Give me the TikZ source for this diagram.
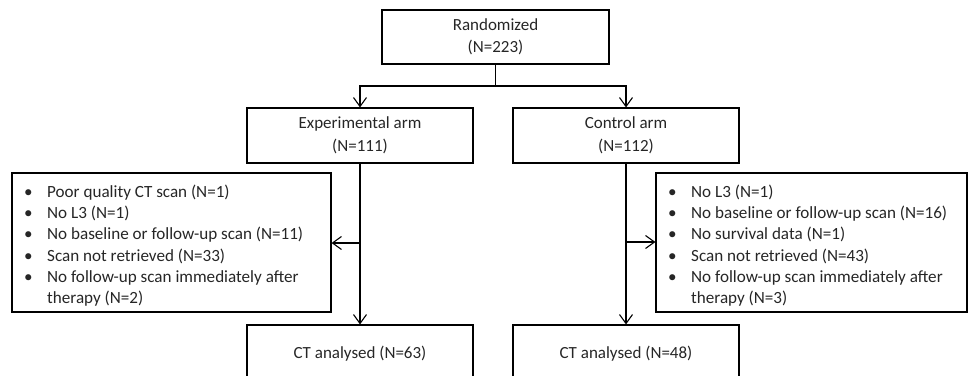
\documentclass[tikz,border=0pt]{standalone}
\usepackage{fontspec}
\setmainfont{Carlito}
\usetikzlibrary{arrows.meta}
\newcommand\bitm{\makebox[23pt][l]{\textbullet}}
\begin{document}
\begin{tikzpicture}[x=1pt,y=-1pt,
  box/.style={draw,line width=1.1pt,inner sep=0pt,align=center,
    font=\fontsize{17}{22.5}\selectfont,text=black!85},
  lst/.style={inner sep=0pt,align=left,anchor=west,
    font=\fontsize{17.1}{21.3}\selectfont,text=black!85},
  arr/.style={line width=1.3pt,-{Straight Barb[length=9pt,width=13pt,line width=1.1pt]}},
  ln/.style={line width=1.3pt}]
\useasboundingbox (0,0) rectangle (968,375);
\clip (0,0) rectangle (968,375);
\node[box,minimum width=227pt,minimum height=54pt] (rand) at (495.5,37) {Randomized\\(N=223)};
\node[box,minimum width=226pt,minimum height=55pt] (exp) at (360,135.5) {Experimental arm\\(N=111)};
\node[box,minimum width=226pt,minimum height=55pt] (ctrl) at (626,135.5) {Control arm\\(N=112)};
\node[box,minimum width=319pt,minimum height=139pt] (exclL) at (171.5,242.5) {};
\node[box,minimum width=311pt,minimum height=139pt] (exclR) at (811.5,242.5) {};
\node[box,minimum width=226pt,minimum height=57pt] (expb) at (360,353.5) {CT analysed (N=63)};
\node[box,minimum width=226pt,minimum height=57pt] (ctrlb) at (626,353.5) {CT analysed (N=48)};
\node[lst] (txtL) at (24,245.5) {\bitm Poor quality CT scan (N=1)\\
\bitm No L3 (N=1)\\
\bitm No baseline or follow-up scan (N=11)\\
\bitm Scan not retrieved (N=33)\\
\bitm No follow-up scan immediately after\\
\hspace*{23pt}therapy (N=2)};
\node[lst] (txtR) at (668,245.5) {\bitm No L3 (N=1)\\
\bitm No baseline or follow-up scan (N=16)\\
\bitm No survival data (N=1)\\
\bitm Scan not retrieved (N=43)\\
\bitm No follow-up scan immediately after\\
\hspace*{23pt}therapy (N=3)};
\coordinate (split) at (495.5,86);
\coordinate (jL) at (360,243);
\coordinate (jR) at (626,242);
\draw[ln] (rand.south) -- (split);
\draw[arr] (split) -| (exp.north);
\draw[arr] (split) -| (ctrl.north);
\draw[arr] (exp.south) -- (expb.north);
\draw[arr] (ctrl.south) -- (ctrlb.north);
\draw[arr] (jL) -- (jL -| exclL.east);
\draw[arr] (jR) -- (jR -| exclR.west);
\end{tikzpicture}
\end{document}
